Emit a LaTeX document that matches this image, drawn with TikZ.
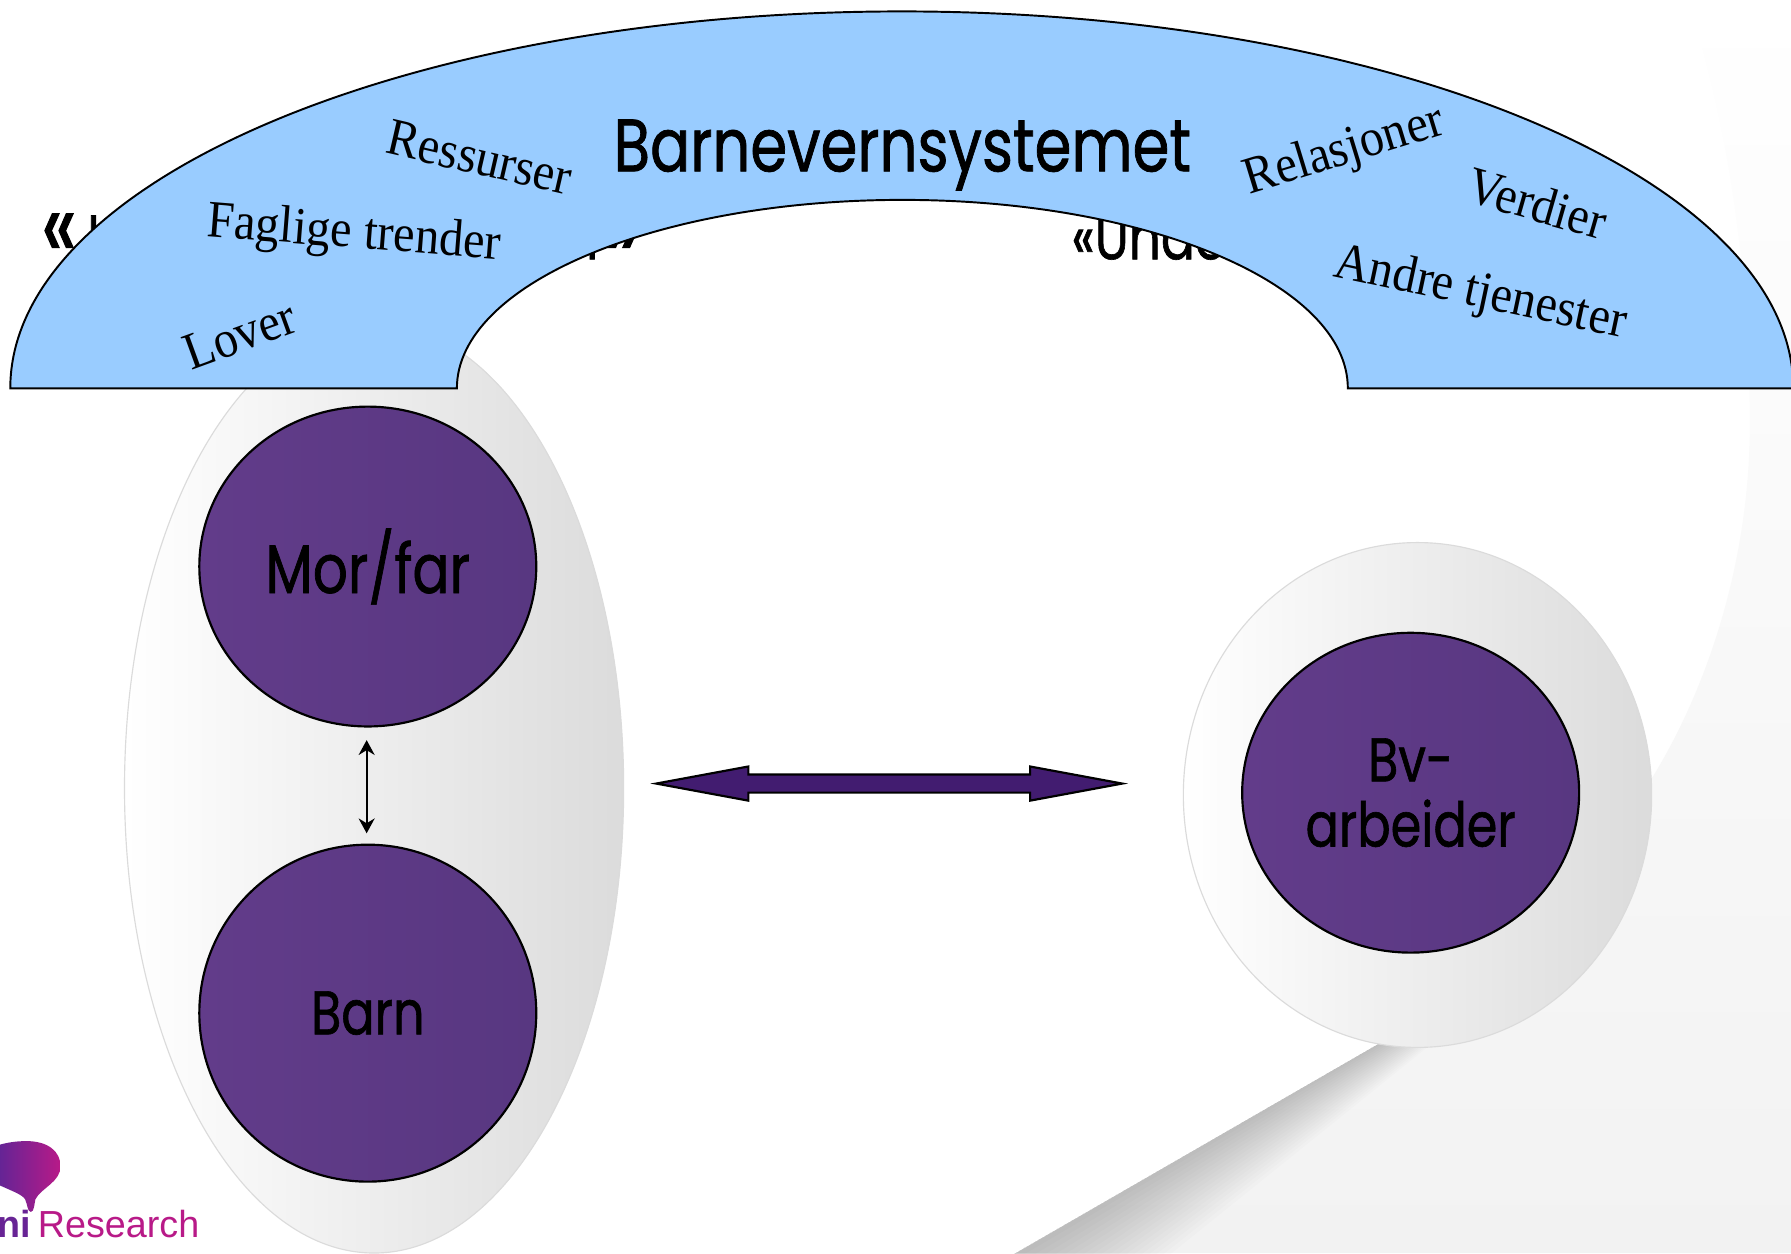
\documentclass[tikz,border=0pt]{standalone}
\usepackage{fontspec}
\setmainfont[FakeStretch=0.92]{Liberation Serif}
\newfontfamily\handfont[FakeStretch=0.8,FakeBold=1]{Poppins}
\newfontfamily\logofont{Liberation Sans}
\usetikzlibrary{shapes.geometric,shapes.arrows,arrows.meta}
\definecolor{archblue}{HTML}{99CCFF}
\definecolor{pagegrey}{HTML}{F2F2F2}
\definecolor{purpleL}{HTML}{623C8A}
\definecolor{purpleR}{HTML}{583781}
\definecolor{arrowpurple}{HTML}{421C70}
\definecolor{logoL}{HTML}{46289A}
\definecolor{logoR}{HTML}{B81A88}
\newcommand{\bigquote}[1]{{\fontsize{85}{85}\selectfont #1}}
\tikzset{
  person/.style = {shape=ellipse, draw, line width=1.9pt, inner sep=0pt, align=center,
    left color=purpleL, right color=purpleR,
    font=\handfont\fontsize{54}{57}\selectfont},
  group/.style = {shape=ellipse, draw=gray!28, line width=1pt, inner sep=0pt,
    left color=white, right color=gray!28},
  archlabel/.style = {font=\fontsize{46}{50}\selectfont, inner sep=0pt},
  hiddenlabel/.style = {font=\handfont\fontsize{55}{50}\selectfont, inner sep=0pt}
}
\begin{document}
\begin{tikzpicture}[x=1pt, y=-1pt]
  \clip (0,0) rectangle (1568,1097);
  \useasboundingbox (0,0) rectangle (1568,1097);
  % page background
  \fill[white] (0,0) rectangle (1568,1097);
  \shade[top color=white, bottom color=pagegrey]
    (1478,0) .. controls (1520,130) and (1532,270) .. (1532,370)
    .. controls (1532,500) and (1490,610) .. (1447,680)
    -- (1205,915) -- (890,1097) -- (1568,1097) -- (1568,0) -- cycle;
  \foreach \d in {5,10,...,90}
    \fill[black, opacity=.011] (870,1108) -- (1250,889) -- ({1250+.12*\d},{889+.21*\d})
      -- ({870+.5*\d},{1108+.87*\d}) -- cycle;
  % hidden words
  \node[hiddenlabel, anchor=base west] (leftword) at (36,227) {\bigquote{«}\kern9pt I};
  \node[hiddenlabel, anchor=base east] (leftend) at (561,227) {r\bigquote{»}};
  \node[hiddenlabel, anchor=base west] (rightword) at (938,227) {«Under};
  % groups
  \node[group, minimum width=437, minimum height=814] (family) at (327.5,690) {};
  \node[group, minimum width=410, minimum height=442] (worker) at (1241,696) {};
  % people
  \node[person, minimum width=295, minimum height=280, font=\handfont\fontsize{60}{57}\selectfont] (morfar) at (322,496) {Mor/far};
  \node[person, minimum width=295, minimum height=295] (barn) at (322,887) {Barn};
  \node[person, minimum width=295, minimum height=280] (bvarb) at (1235,694) {Bv-\\arbeider};
  \draw[{Stealth[length=13pt,width=14pt]}-{Stealth[length=13pt,width=14pt]}, line width=2pt,
    shorten <=11pt, shorten >=9pt] ([xshift=-1pt]morfar.south) -- ([xshift=-1pt]barn.north);
  \node[double arrow, draw, line width=1.9pt, fill=arrowpurple, inner xsep=0pt, inner ysep=7pt,
    minimum height=408, minimum width=28, double arrow head extend=7,
    double arrow tip angle=21] (dialog) at (778.5,686) {};
  % the system
  \draw[fill=archblue, line width=1.7pt] (9,340) arc[start angle=180, end angle=360, x radius=780.5, y radius=330]
    -- (1180,340) arc[start angle=360, end angle=180, x radius=390, y radius=165] -- cycle;
  \node[font=\handfont\fontsize{65}{65}\selectfont, inner sep=0pt, anchor=base] (system) at (790,150) {Barnevernsystemet};
  \node[archlabel, rotate=-13] (ressurser) at (420,138) {Ressurser};
  \node[archlabel, rotate=-4.5] (trender) at (310,206) {Faglige trender};
  \node[archlabel, rotate=20] (lover) at (210,293) {Lover};
  \node[archlabel, rotate=17] (relasjoner) at (1177,133) {Relasjoner};
  \node[archlabel, rotate=-16] (verdier) at (1346,178) {Verdier};
  \node[archlabel, rotate=-12] (tjenester) at (1296,258) {Andre tjenester};
  % logo
  \shade[left color=logoL, right color=logoR]
    (-20,1020) .. controls (-20,1005) and (5,999) .. (23,999)
    .. controls (42,999) and (53,1008) .. (53,1021)
    .. controls (53,1035) and (36,1040) .. (31,1050)
    .. controls (30,1054) and (30,1061) .. (27,1061)
    .. controls (24,1061) and (24,1054) .. (22,1050)
    .. controls (18,1042) and (-20,1035) .. (-20,1020) -- cycle;
  \node[font=\logofont\bfseries\fontsize{33}{40}\selectfont, text=logoL!70!logoR, inner sep=0pt, anchor=base east] (logoni) at (27,1083) {ni};
  \node[font=\logofont\fontsize{33}{40}\selectfont, text=logoR, inner sep=0pt, anchor=base west] (logoname) at (33,1083) {Research};
\end{tikzpicture}
\end{document}
